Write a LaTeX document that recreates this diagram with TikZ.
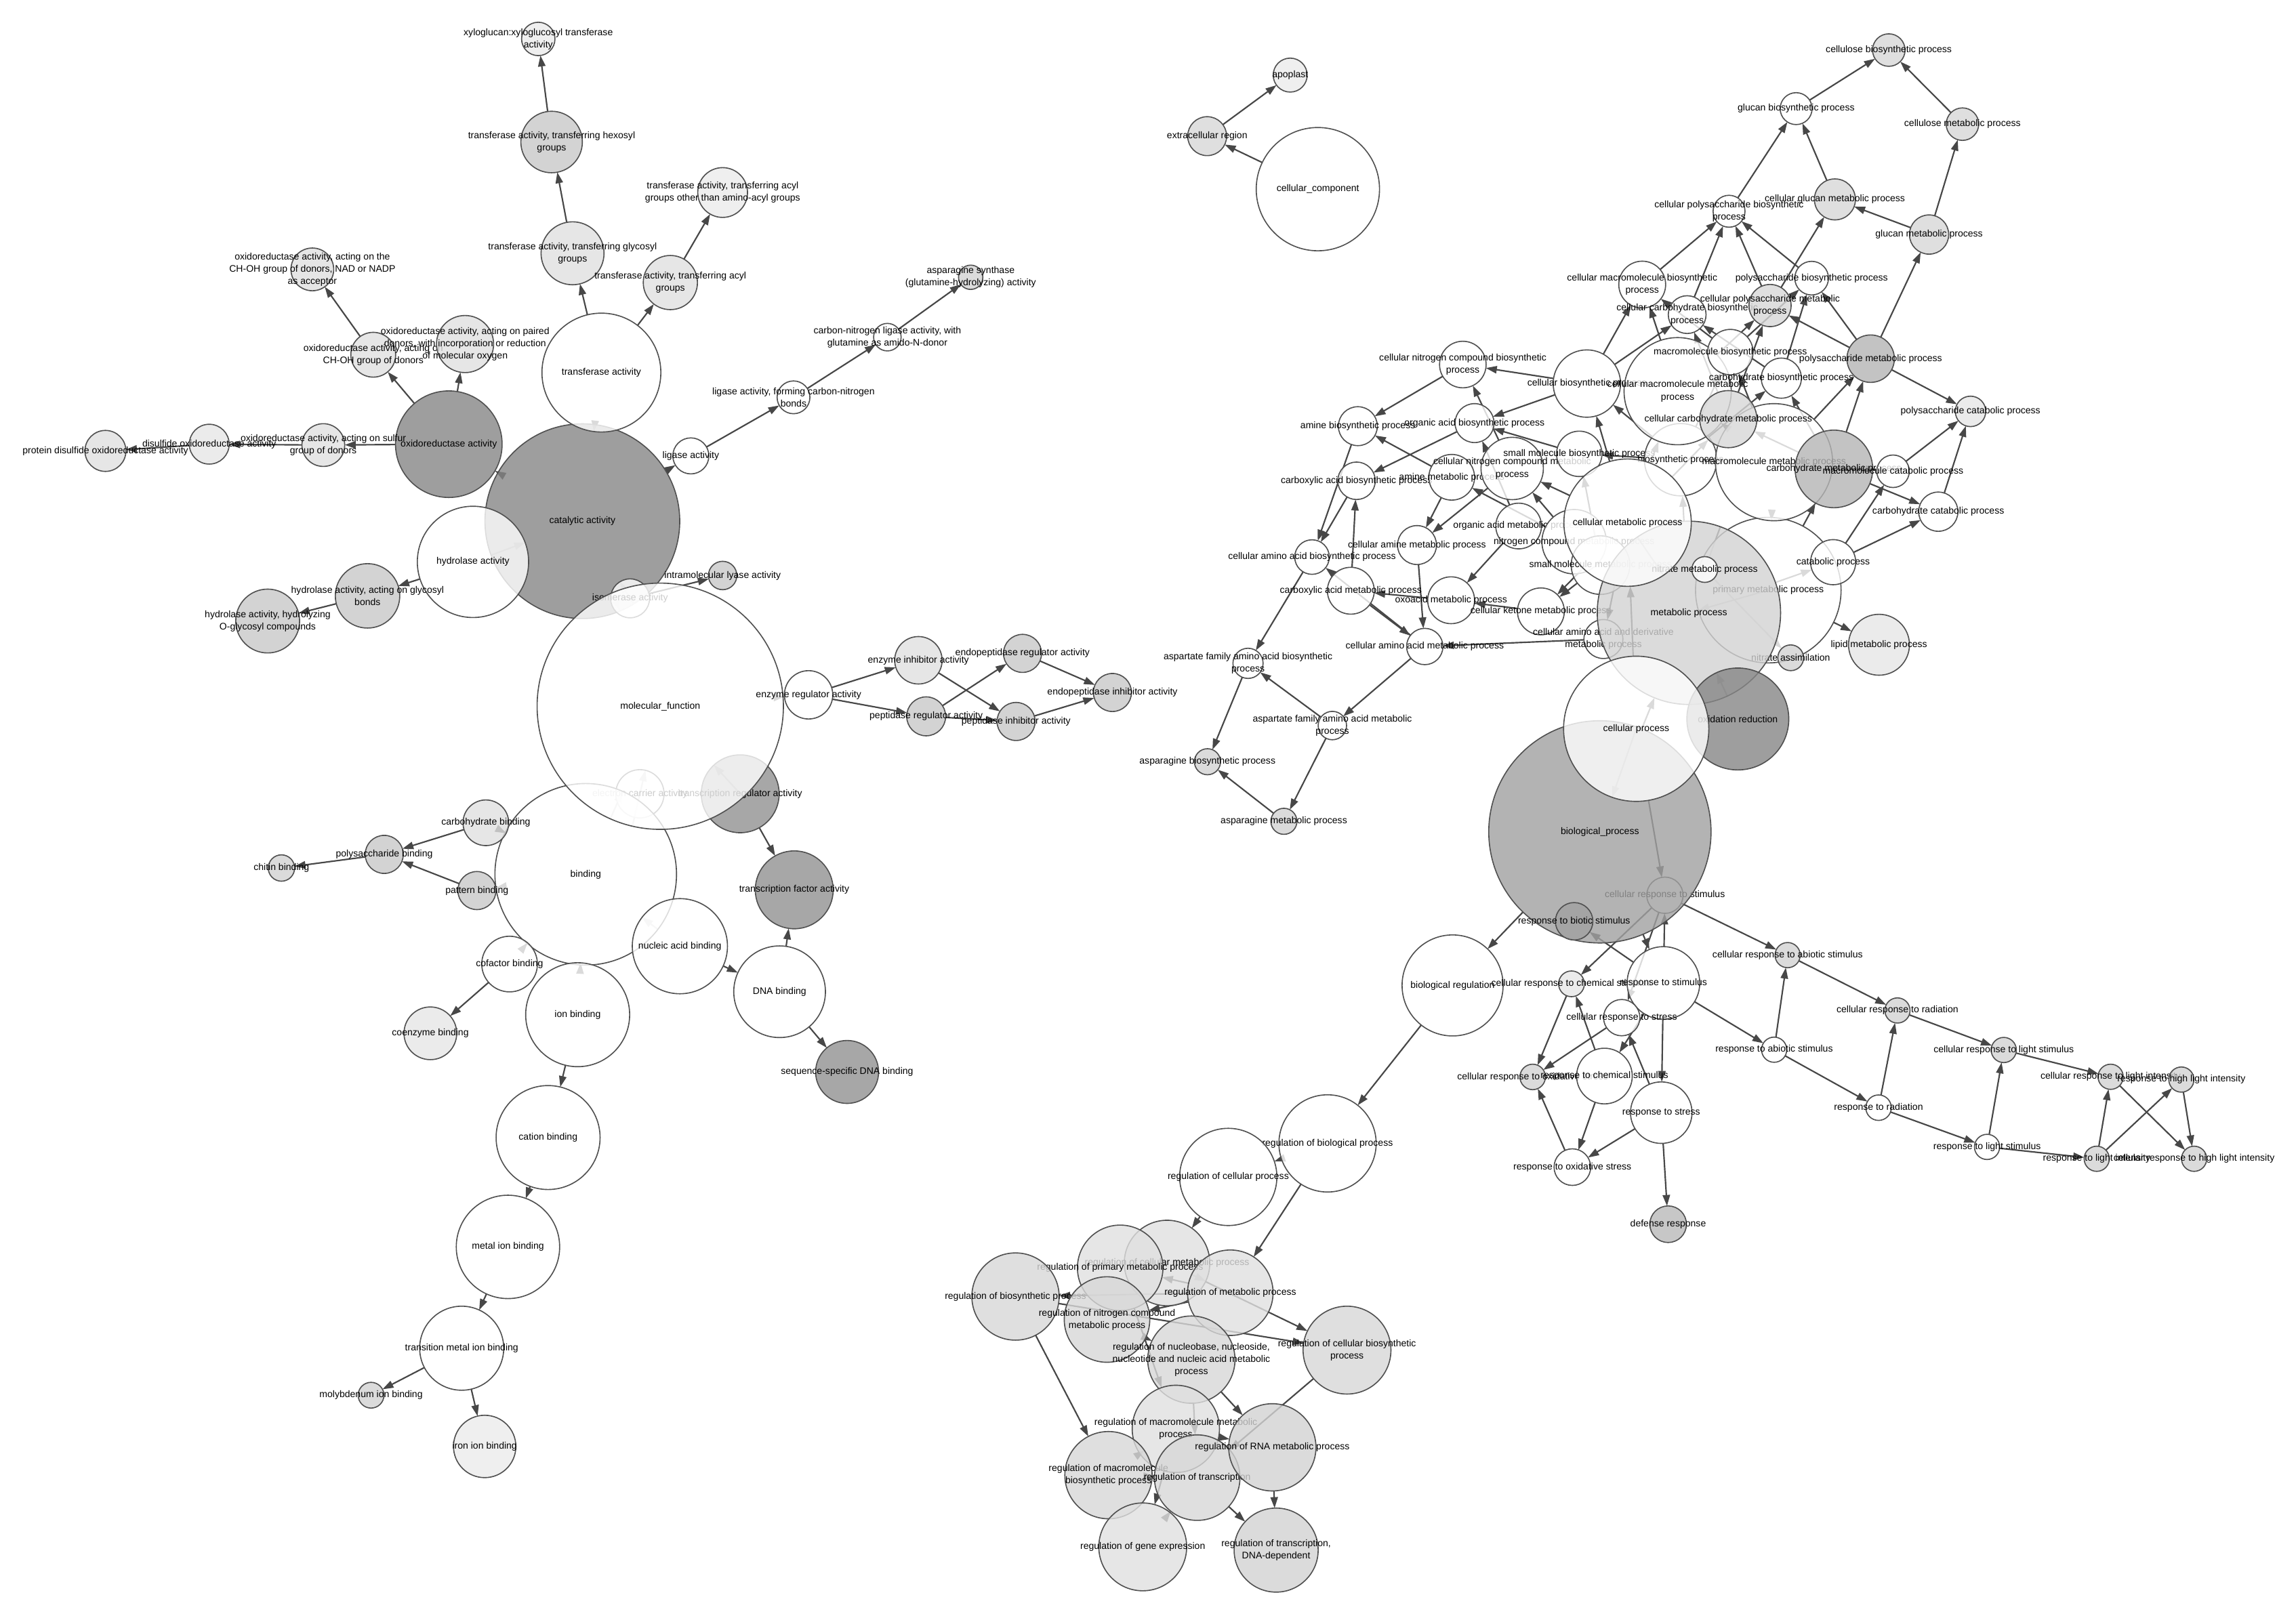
\documentclass[tikz,border=0pt]{standalone}
\usepackage{fontspec}
\setmainfont{Liberation Sans}
\usetikzlibrary{arrows.meta}
\pgfdeclarelayer{bgl}
\pgfdeclarelayer{edges}
\pgfsetlayers{bgl,edges,main}
\definecolor{ndraw}{HTML}{505050}
\definecolor{edgec}{HTML}{474747}
\definecolor{t9E}{HTML}{868686}
\definecolor{tA8}{HTML}{929292}
\definecolor{tB4}{HTML}{A1A1A1}
\definecolor{tC4}{HTML}{B5B5B5}
\definecolor{tC8}{HTML}{BABABA}
\definecolor{tD4}{HTML}{C9C9C9}
\definecolor{tDC}{HTML}{D3D3D3}
\definecolor{tE0}{HTML}{D8D8D8}
\definecolor{tE6}{HTML}{E0E0E0}
\definecolor{tEC}{HTML}{E7E7E7}
\definecolor{tF0}{HTML}{ECECEC}
\newcommand\lbfont{\fontsize{6.5}{8.4}\selectfont}
\tikzset{
  gn/.style={circle, draw=ndraw, line width=0.75pt, fill opacity=0.8, inner sep=0pt, outer sep=0pt},
  lb/.style={font=\lbfont, align=center, inner sep=0pt, text=black, text opacity=1},
  ed/.style={draw=edgec, line width=1pt, -{Triangle[length=7.5pt,width=5pt]}}
}
\newcommand\GN[6]{\node[gn,fill=#5,minimum size={2*#4pt},label={[lb]center:{#6}}] (#1) at (#2,#3) {};}
\newcommand\E[2]{\draw[ed] (#1) -- (#2);}
\begin{document}
\begin{tikzpicture}[x=1pt,y=-1pt]
\useasboundingbox (0,0) rectangle (1568,1105);
\begin{pgfonlayer}{bgl}
\fill[white] (0,0) rectangle (1568,1105);
\end{pgfonlayer}
% ---------- cellular component
\GN{cc}{900}{129.2}{42.1}{white}{cellular\_component}
\GN{ecr}{824.4}{93}{13.3}{tE0}{extracellular region}
\GN{apo}{881.1}{51.3}{11.6}{tF0}{apoplast}
% ---------- molecular function
\GN{cat}{397.7}{356}{66.5}{t9E}{catalytic activity}
\GN{trans}{410.7}{254.5}{40.6}{white}{transferase activity}
\GN{hyd}{323}{383.8}{38}{white}{hydrolase activity}
\GN{oxr}{306.5}{303.4}{36.4}{t9E}{oxidoreductase activity}
\GN{iso}{430.3}{408.7}{13.3}{white}{isomerase activity}
\GN{ecarr}{437}{542.2}{16.5}{white}{electron carrier activity}
\GN{treg}{505.5}{542.2}{26.6}{tA8}{transcription regulator activity}
\GN{bind}{400}{597.2}{62}{white}{binding}
\GN{mf}{450.9}{482.4}{84.1}{white}{molecular\_function}
\GN{xyl}{367.6}{26.6}{11.4}{tF0}{xyloglucan:xyloglucosyl transferase\\activity}
\GN{hex}{376.7}{97}{21}{tD4}{transferase activity, transferring hexosyl\\groups}
\GN{gly}{391}{173}{21.5}{tE6}{transferase activity, transferring glycosyl\\groups}
\GN{acylo}{493.5}{131.5}{17}{tF0}{transferase activity, transferring acyl\\groups other than amino-acyl groups}
\GN{acyl}{457.8}{193}{18.5}{tE6}{transferase activity, transferring acyl\\groups}
\GN{choh}{254.9}{242.3}{15.3}{tE6}{oxidoreductase activity, acting on\\CH-OH group of donors}
\GN{nad}{213.3}{184}{14.6}{tE6}{oxidoreductase activity, acting on the\\CH-OH group of donors, NAD or NADP\\as acceptor}
\GN{paired}{317.6}{235}{19.5}{tE6}{oxidoreductase activity, acting on paired\\donors, with incorporation or reduction\\of molecular oxygen}
\GN{sulf}{220.8}{304}{14.6}{tE6}{oxidoreductase activity, acting on sulfur\\group of donors}
\GN{disulf}{142.9}{303.4}{13.6}{tEC}{disulfide oxidoreductase activity}
\GN{pdisulf}{72}{308}{14}{tE6}{protein disulfide oxidoreductase activity}
\GN{lig}{471.8}{311.4}{12.3}{white}{ligase activity}
\GN{lcn}{541.9}{271.4}{11.2}{white}{ligase activity, forming carbon-nitrogen\\bonds}
\GN{cnl}{606}{230.3}{9.4}{white}{carbon-nitrogen ligase activity, with\\glutamine as amido-N-donor}
\GN{asyn}{662.9}{189.4}{8.3}{tDC}{asparagine synthase\\(glutamine-hydrolyzing) activity}
\GN{hydgly}{251}{407}{22}{tD4}{hydrolase activity, acting on glycosyl\\bonds}
\GN{oglyc}{182.8}{424.2}{21.8}{tD4}{hydrolase activity, hydrolyzing\\O-glycosyl compounds}
\GN{iml}{493.5}{393.1}{9.7}{tD4}{intramolecular lyase activity}
\GN{er}{552.2}{474.6}{16.5}{white}{enzyme regulator activity}
\GN{einh}{627.2}{451}{16.2}{tE6}{enzyme inhibitor activity}
\GN{pepreg}{632.5}{489.3}{13.3}{tD4}{peptidase regulator activity}
\GN{endoreg}{698.3}{446.3}{13}{tD4}{endopeptidase regulator activity}
\GN{pepinh}{693.9}{492.8}{13}{tD4}{peptidase inhibitor activity}
\GN{endoinh}{759.7}{473}{13}{tD4}{endopeptidase inhibitor activity}
\GN{tfa}{542.4}{607.8}{26.6}{tA8}{transcription factor activity}
\GN{carbb}{331.8}{562}{15.6}{tE6}{carbohydrate binding}
\GN{polyb}{262.4}{583.6}{13}{tD4}{polysaccharide binding}
\GN{chit}{192.2}{592.9}{9}{tDC}{chitin binding}
\GN{patt}{325.7}{608.3}{13}{tD4}{pattern binding}
\GN{cof}{348}{658.5}{19}{white}{cofactor binding}
\GN{coenz}{293.9}{705.8}{18}{tEC}{coenzyme binding}
\GN{ionb}{394.5}{693.1}{35.5}{white}{ion binding}
\GN{nab}{464.3}{646.3}{32.5}{white}{nucleic acid binding}
\GN{dnab}{532.4}{677.4}{31.3}{white}{DNA binding}
\GN{ssdna}{578.5}{732.2}{21.5}{tA8}{sequence-specific DNA binding}
\GN{catb}{374.3}{777}{35.5}{white}{cation binding}
\GN{metb}{346.9}{851.7}{35.3}{white}{metal ion binding}
\GN{tmib}{315.3}{920.9}{28.7}{white}{transition metal ion binding}
\GN{molyb}{253.4}{953}{8.8}{tDC}{molybdenum ion binding}
\GN{ironb}{331}{988}{21.3}{tF0}{iron ion binding}
% ---------- biological process: amino acid chain
\GN{cncbp}{999}{249}{15.9}{white}{cellular nitrogen compound biosynthetic\\process}
\GN{abp}{927.3}{291.1}{13.3}{white}{amine biosynthetic process}
\GN{oabp}{1007}{289}{13.3}{white}{organic acid biosynthetic process}
\GN{cabp}{926.4}{328.4}{12.8}{white}{carboxylic acid biosynthetic process}
\GN{caabp}{896}{380.5}{11.8}{white}{cellular amino acid biosynthetic process}
\GN{afbp}{852.3}{453.1}{10.3}{white}{aspartate family amino acid biosynthetic\\process}
\GN{afmp}{909.9}{495.6}{9.7}{white}{aspartate family amino acid metabolic\\process}
\GN{asbp}{824.6}{520.3}{8.9}{tDC}{asparagine biosynthetic process}
\GN{asmp}{876.8}{561}{8.9}{tDC}{asparagine metabolic process}
\GN{camap}{922.5}{403.5}{16}{white}{carboxylic acid metabolic process}
\GN{oxmp}{991}{410}{16}{white}{oxoacid metabolic process}
\GN{ckmp}{1052.3}{417.6}{16}{white}{cellular ketone metabolic process}
\GN{caamp}{973}{441.6}{12.4}{white}{cellular amino acid metabolic process}
\GN{camp}{967.7}{372.3}{13.3}{white}{cellular amine metabolic process}
\GN{amp}{991.4}{326}{15.6}{white}{amine metabolic process}
\GN{cncmp}{1032.7}{320}{21.3}{white}{cellular nitrogen compound metabolic\\process}
\GN{smbp}{1078.5}{310}{15.5}{white}{small molecule biosynthetic process}
\GN{oamp}{1037.1}{359.3}{15.6}{white}{organic acid metabolic process}
\GN{ncmp}{1075}{370}{22}{white}{nitrogen compound metabolic process}
\GN{smmp}{1093}{386}{20}{white}{small molecule metabolic process}
\GN{bp}{1147.7}{314}{24.7}{white}{biosynthetic process}
% ---------- core
\GN{crs}{1137}{611.5}{12.4}{white}{cellular response to stimulus}
\GN{biop}{1092.6}{568.2}{75.9}{tB4}{biological\_process}
\GN{rbs}{1075}{629.3}{12.8}{tB4}{response to biotic stimulus}
\GN{pmp}{1207.6}{403.1}{49.7}{white}{primary metabolic process}
\GN{caadmp}{1095}{436.5}{13.3}{white}{cellular amino acid and derivative\\metabolic process}
\GN{nass}{1222.9}{449.3}{8.8}{tDC}{nitrate assimilation}
\GN{mp}{1153.4}{418.6}{62.6}{tDC}{metabolic process}
\GN{nmp}{1164.2}{389}{8.8}{white}{nitrate metabolic process}
\GN{cmp}{1111.5}{357}{43.5}{white}{cellular metabolic process}
\GN{catp}{1251.9}{384}{15.4}{white}{catabolic process}
\GN{lmp}{1283.2}{440.4}{20.8}{tEC}{lipid metabolic process}
\GN{oxred}{1186.8}{491.1}{34.8}{t9E}{oxidation reduction}
\GN{cproc}{1117.4}{497.8}{49.6}{white}{cellular process}
% ---------- carbohydrate cluster
\GN{cbp}{1083.7}{262}{23}{white}{cellular biosynthetic process}
\GN{cmmp}{1145.7}{267.2}{36.6}{white}{cellular macromolecule metabolic\\process}
\GN{mmp}{1211.5}{315.7}{40}{white}{macromolecule metabolic process}
\GN{cchmp}{1180.3}{286.3}{19.5}{tE0}{cellular carbohydrate metabolic process}
\GN{chmp}{1252.4}{320.3}{26.5}{tC4}{carbohydrate metabolic process}
\GN{mcp}{1292.8}{321.9}{11.1}{white}{macromolecule catabolic process}
\GN{chcp}{1323.7}{349.5}{13.4}{white}{carbohydrate catabolic process}
\GN{psmp}{1277.5}{245}{16.2}{tC4}{polysaccharide metabolic process}
\GN{pscp}{1345.7}{281}{10.4}{tEC}{polysaccharide catabolic process}
\GN{mbp}{1181.7}{240.5}{15.5}{white}{macromolecule biosynthetic process}
\GN{chbp}{1216.5}{258.3}{13.7}{white}{carbohydrate biosynthetic process}
\GN{cmbp}{1121.5}{194.4}{16}{white}{cellular macromolecule biosynthetic\\process}
\GN{ccbp}{1152.2}{214.9}{12.9}{white}{cellular carbohydrate biosynthetic\\process}
\GN{cpsmp}{1208.8}{208.7}{14.4}{tE0}{cellular polysaccharide metabolic\\process}
\GN{psbp}{1237.2}{190}{11.5}{white}{polysaccharide biosynthetic process}
\GN{cpbp}{1180.8}{144.3}{10.9}{white}{cellular polysaccharide biosynthetic\\process}
\GN{cgm}{1253.1}{136.2}{14}{tE0}{cellular glucan metabolic process}
\GN{glm}{1317.4}{160.2}{13.4}{tE0}{glucan metabolic process}
\GN{gbp}{1226.6}{74.2}{10.9}{white}{glucan biosynthetic process}
\GN{clm}{1340.2}{84.8}{11.1}{tE0}{cellulose metabolic process}
\GN{clb}{1289.9}{34.2}{11.1}{tE0}{cellulose biosynthetic process}
% ---------- stimulus
\GN{breg}{992}{673.1}{34.5}{white}{biological regulation}
\GN{crcs}{1073.2}{672}{8.8}{tEC}{cellular response to chemical stimulus}
\GN{rs}{1136}{671.4}{24.8}{white}{response to stimulus}
\GN{crst}{1107.5}{695.1}{12.4}{white}{cellular response to stress}
\GN{cros}{1046.7}{735.6}{8.7}{tDC}{cellular response to oxidative stress}
\GN{rcs}{1095.7}{735}{19}{white}{response to chemical stimulus}
\GN{rst}{1134.5}{760}{21}{white}{response to stress}
\GN{ros}{1073.8}{797.2}{12.5}{white}{response to oxidative stress}
\GN{dr}{1139.2}{836.2}{12.5}{tC8}{defense response}
\GN{cras}{1220.8}{652.4}{8.6}{tDC}{cellular response to abiotic stimulus}
\GN{ras}{1211.6}{717}{8.6}{white}{response to abiotic stimulus}
\GN{crr}{1295.8}{690.2}{8.6}{tDC}{cellular response to radiation}
\GN{rr}{1282.9}{756.6}{8.7}{white}{response to radiation}
\GN{crls}{1368.4}{717.2}{8.6}{tDC}{cellular response to light stimulus}
\GN{rls}{1357}{783.4}{8.6}{white}{response to light stimulus}
\GN{crli}{1441.4}{735.5}{8.6}{tDC}{cellular response to light intensity}
\GN{rhli}{1489.7}{737.4}{8.6}{tDC}{response to high light intensity}
\GN{rli}{1431.9}{791.5}{8.6}{tDC}{response to light intensity}
\GN{crhli}{1498.4}{791.5}{8.6}{tDC}{cellular response to high light intensity}
% ---------- regulation
\GN{rbp}{906.6}{781}{33.2}{white}{regulation of biological process}
\GN{rcp}{838.8}{803.9}{33.2}{white}{regulation of cellular process}
\GN{rcmp}{797}{862.7}{29.2}{tE6}{regulation of cellular metabolic process}
\GN{rpmp}{765}{866}{29.2}{tE6}{regulation of primary metabolic process}
\GN{rbsp}{693.5}{885.6}{29.8}{tE0}{regulation of biosynthetic process}
\GN{rmp}{840.2}{883}{29.2}{tE6}{regulation of metabolic process}
\GN{rncmp}{756}{901.3}{29.2}{tE0}{regulation of nitrogen compound\\metabolic process}
\GN{rnuc}{813.6}{928.7}{29.8}{tE0}{regulation of nucleobase, nucleoside,\\nucleotide and nucleic acid metabolic\\process}
\GN{rcbp}{919.9}{922.2}{30}{tE0}{regulation of cellular biosynthetic\\process}
\GN{rmmp}{803}{976}{29.8}{tE6}{regulation of macromolecule metabolic\\process}
\GN{rmbp}{757}{1007.6}{29.8}{tE0}{regulation of macromolecule\\biosynthetic process}
\GN{rtr}{817.6}{1009.3}{29.2}{tE0}{regulation of transcription}
\GN{rrna}{868.9}{988.6}{29.8}{tDC}{regulation of RNA metabolic process}
\GN{rge}{780.4}{1056.6}{30}{tE6}{regulation of gene expression}
\GN{rtdd}{871.5}{1058.8}{28.7}{tDC}{regulation of transcription,\\DNA-dependent}
% ================= edges
\begin{pgfonlayer}{edges}
\E{cc}{ecr} \E{ecr}{apo}
\E{mf}{cat} \E{mf}{er} \E{mf}{bind} \E{mf}{ecarr} \E{mf}{treg}
\E{cat}{trans} \E{cat}{oxr} \E{cat}{lig} \E{cat}{hyd} \E{cat}{iso}
\E{trans}{gly} \E{trans}{acyl} \E{gly}{hex} \E{hex}{xyl} \E{acyl}{acylo}
\E{oxr}{choh} \E{choh}{nad} \E{oxr}{paired} \E{oxr}{sulf} \E{sulf}{disulf} \E{disulf}{pdisulf}
\E{lig}{lcn} \E{lcn}{cnl} \E{cnl}{asyn}
\E{hyd}{hydgly} \E{hydgly}{oglyc}
\E{iso}{iml}
\E{er}{einh} \E{er}{pepreg} \E{einh}{pepinh} \E{pepreg}{endoreg} \E{pepreg}{pepinh} \E{endoreg}{endoinh} \E{pepinh}{endoinh}
\E{treg}{tfa} \E{dnab}{tfa} \E{nab}{dnab} \E{dnab}{ssdna}
\E{bind}{carbb} \E{bind}{patt} \E{bind}{cof} \E{bind}{ionb} \E{bind}{nab}
\E{carbb}{polyb} \E{patt}{polyb} \E{polyb}{chit} \E{cof}{coenz}
\E{ionb}{catb} \E{catb}{metb} \E{metb}{tmib} \E{tmib}{molyb} \E{tmib}{ironb}
% BP core
\E{biop}{cproc} \E{biop}{mp} \E{biop}{breg} \E{biop}{rs}
\E{cproc}{cmp} \E{cproc}{crs} \E{mp}{cmp} \E{mp}{oxred} \E{mp}{pmp} \E{mp}{bp} \E{mp}{catp} \E{mp}{nmp} \E{nmp}{nass} \E{cmp}{caadmp}
\E{rs}{crs} \E{rs}{rbs} \E{rs}{rcs} \E{rs}{rst} \E{rs}{ras}
\E{crs}{cras} \E{crs}{crcs} \E{crs}{crst}
\E{rcs}{crcs} \E{rcs}{ros} \E{rst}{ros} \E{rst}{crst} \E{rst}{dr}
\E{crcs}{cros} \E{crst}{cros} \E{ros}{cros}
\E{ras}{cras} \E{cras}{crr} \E{ras}{rr} \E{rr}{crr} \E{rr}{rls} \E{crr}{crls} \E{rls}{crls} \E{crls}{crli} \E{rls}{rli} \E{rli}{crli} \E{rli}{rhli} \E{crli}{crhli} \E{rhli}{crhli}
% regulation
\E{breg}{rbp} \E{rbp}{rcp} \E{rbp}{rmp} \E{rcp}{rcmp} \E{rmp}{rcmp} \E{rmp}{rpmp} \E{rmp}{rbsp} \E{rmp}{rncmp} \E{rcmp}{rcbp} \E{rbsp}{rcbp} \E{rbsp}{rmbp} \E{rncmp}{rnuc} \E{rpmp}{rmmp} \E{rnuc}{rrna} \E{rnuc}{rtr} \E{rcbp}{rtr} \E{rmmp}{rge} \E{rmmp}{rmbp} \E{rmmp}{rrna} \E{rrna}{rtdd} \E{rtr}{rtdd} \E{rge}{rtr} \E{rmbp}{rtr}
% metabolism
\E{pmp}{mmp} \E{pmp}{chmp} \E{pmp}{lmp}
\E{cmp}{cbp} \E{bp}{cbp} \E{bp}{smbp} \E{cmp}{cncmp} \E{ncmp}{cncmp} \E{ncmp}{amp} \E{cncmp}{camp} \E{cncmp}{cncbp} \E{cbp}{cncbp} \E{cbp}{oabp} \E{smbp}{oabp} \E{oamp}{oabp} \E{oamp}{oxmp} \E{amp}{abp} \E{amp}{camp} \E{cncbp}{abp} \E{oabp}{cabp} \E{abp}{caabp} \E{cabp}{caabp} \E{camap}{cabp} \E{ckmp}{oxmp} \E{oxmp}{camap} \E{camap}{caamp} \E{camp}{caamp} \E{caadmp}{caamp} \E{caamp}{caabp} \E{caabp}{afbp} \E{caamp}{afmp} \E{afmp}{afbp} \E{afbp}{asbp} \E{afmp}{asmp} \E{asmp}{asbp} \E{smmp}{ckmp} \E{cmp}{ckmp} \E{smmp}{smbp}
% carbohydrate
\E{cbp}{ccbp} \E{cbp}{cmbp} \E{cmmp}{cmbp} \E{mbp}{cmbp}
\E{mmp}{cmmp} \E{cmp}{cmmp} \E{mmp}{mbp} \E{bp}{mbp} \E{chmp}{chbp} \E{bp}{chbp} \E{chmp}{cchmp} \E{cmp}{cchmp}
\E{cchmp}{ccbp} \E{chbp}{ccbp}
\E{ccbp}{cpbp} \E{cmbp}{cpbp} \E{cpsmp}{cpbp} \E{psbp}{cpbp}
\E{chbp}{psbp} \E{psmp}{psbp} \E{mbp}{psbp}
\E{psmp}{cpsmp} \E{cchmp}{cpsmp} \E{cmmp}{cpsmp}
\E{psmp}{glm} \E{psmp}{pscp} \E{chmp}{psmp} \E{mmp}{psmp}
\E{chmp}{chcp} \E{catp}{mcp} \E{catp}{chcp} \E{mcp}{pscp} \E{chcp}{pscp} \E{mmp}{mcp}
\E{glm}{cgm} \E{cpsmp}{cgm} \E{cpbp}{gbp} \E{cgm}{gbp} \E{glm}{clm} \E{gbp}{clb} \E{clm}{clb}
\end{pgfonlayer}
\end{tikzpicture}
\end{document}
